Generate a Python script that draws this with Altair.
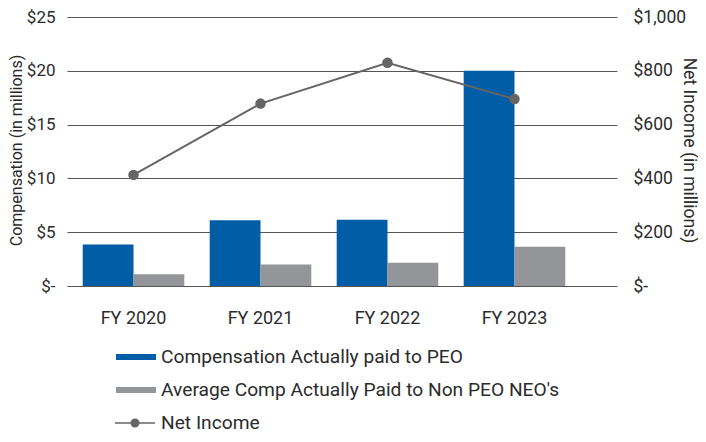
import altair as alt
import pandas as pd

years = ["FY 2020", "FY 2021", "FY 2022", "FY 2023"]
peo_comp = [3.85, 6.1, 6.15, 20.0]
neo_comp = [1.1, 2.0, 2.15, 3.65]
net_income = [413, 678, 830, 695]
bar_series = ["Compensation Actually paid to PEO", "Average Comp Actually Paid to Non PEO NEO's"]
line_series = "Net Income"
left_ticks = [0, 5, 10, 15, 20, 25]
right_ticks = [0, 200, 400, 600, 800, 1000]

BLUE = "#005DA6"
GRAY = "#939598"
LINE = "#656565"
TXT = "#2b2b2b"

bars_df = pd.DataFrame({
    "year": years * 2,
    "series": [bar_series[0]] * 4 + [bar_series[1]] * 4,
    "value": peo_comp + neo_comp,
})
line_df = pd.DataFrame({"year": years, "series": [line_series] * 4, "income": net_income})

xscale = alt.Scale(domain=years, paddingInner=0.2, paddingOuter=0.2655, align=0.233)
xaxis = alt.Axis(title=None, labelFontSize=18, labelPadding=23, labelAngle=0, ticks=False, domain=False,
                 labelColor=TXT, grid=False)

left_axis = alt.Axis(
    values=left_ticks,
    labelExpr="datum.value == 0 ? '$-\u00a0\u00a0' : '$' + datum.value",
    title="Compensation (in millions)", titleFontSize=16, titleFontWeight="normal", titleColor=TXT,
    titleX=-51, titleY=133, titleAngle=270, titleAlign="center", titleBaseline="middle",
    labelFontSize=17, labelColor=TXT, labelPadding=12, ticks=False, domain=False,
    grid=True, gridColor="#555555", gridWidth=1.2,
)
right_axis = alt.Axis(
    orient="right", values=right_ticks,
    labelExpr="datum.value == 0 ? '$-' : '$' + format(datum.value, ',')",
    title="Net Income (in millions)", titleFontSize=17.5, titleFontWeight="normal", titleColor=TXT,
    titleX=71, titleY=133, titleAngle=90, titleAlign="center", titleBaseline="middle",
    labelFontSize=17.5, labelColor=TXT, labelPadding=16, labelAlign="left", ticks=False, domain=False,
    grid=False,
)

bars = alt.Chart(bars_df).mark_bar().encode(
    x=alt.X("year:N", scale=xscale, axis=xaxis, sort=years),
    xOffset=alt.XOffset("series:N", sort=bar_series, scale=alt.Scale(domain=bar_series, paddingInner=0, paddingOuter=0)),
    y=alt.Y("value:Q", scale=alt.Scale(domain=[0, 25], nice=False), axis=left_axis),
    color=alt.Color("series:N", scale=alt.Scale(domain=bar_series, range=[BLUE, GRAY]),
                    legend=alt.Legend(orient="none", legendX=54, legendY=325, direction="vertical", title=None,
                                      symbolType="M-1.333,-0.2L1.333,-0.2L1.333,0.2L-1.333,0.2Z",
                                      symbolSize=900, symbolStrokeWidth=0, labelFontSize=19.2, labelColor=TXT,
                                      labelOffset=10, rowPadding=7, labelLimit=0, padding=0)),
)

line = alt.Chart(line_df).mark_line(strokeWidth=2).encode(
    x=alt.X("year:N", scale=xscale, sort=years, axis=xaxis),
    y=alt.Y("income:Q", scale=alt.Scale(domain=[0, 1000], nice=False), axis=right_axis),
    stroke=alt.Stroke("series:N", scale=alt.Scale(domain=[line_series], range=[LINE]),
                      legend=alt.Legend(orient="none", legendX=52, legendY=390, title=None,
                                        symbolType="M-1.333,0L1.333,0M-0.25,0A0.25,0.25,0,1,0,0.25,0A0.25,0.25,0,1,0,-0.25,0Z",
                                        symbolSize=900, symbolStrokeWidth=1.5, symbolStrokeColor=LINE,
                                        symbolFillColor=LINE, labelFontSize=19.2, labelColor=TXT,
                                        labelOffset=10, labelLimit=0, padding=0)),
)

points = alt.Chart(line_df).mark_point(filled=True, size=110, color=LINE, opacity=1).encode(
    x=alt.X("year:N", scale=xscale, sort=years, axis=xaxis),
    y=alt.Y("income:Q", scale=alt.Scale(domain=[0, 1000], nice=False), axis=None),
)

chart = alt.layer(bars, line, points).resolve_scale(y="independent").properties(
    width=550, height=269,
    padding={"left": 59, "top": 9, "right": 81, "bottom": 148},
    autosize=alt.AutoSizeParams(type="none"),
).configure(font="Roboto").configure_view(stroke=None)

chart.save("out.html", embed_options={"renderer": "svg", "actions": False})
